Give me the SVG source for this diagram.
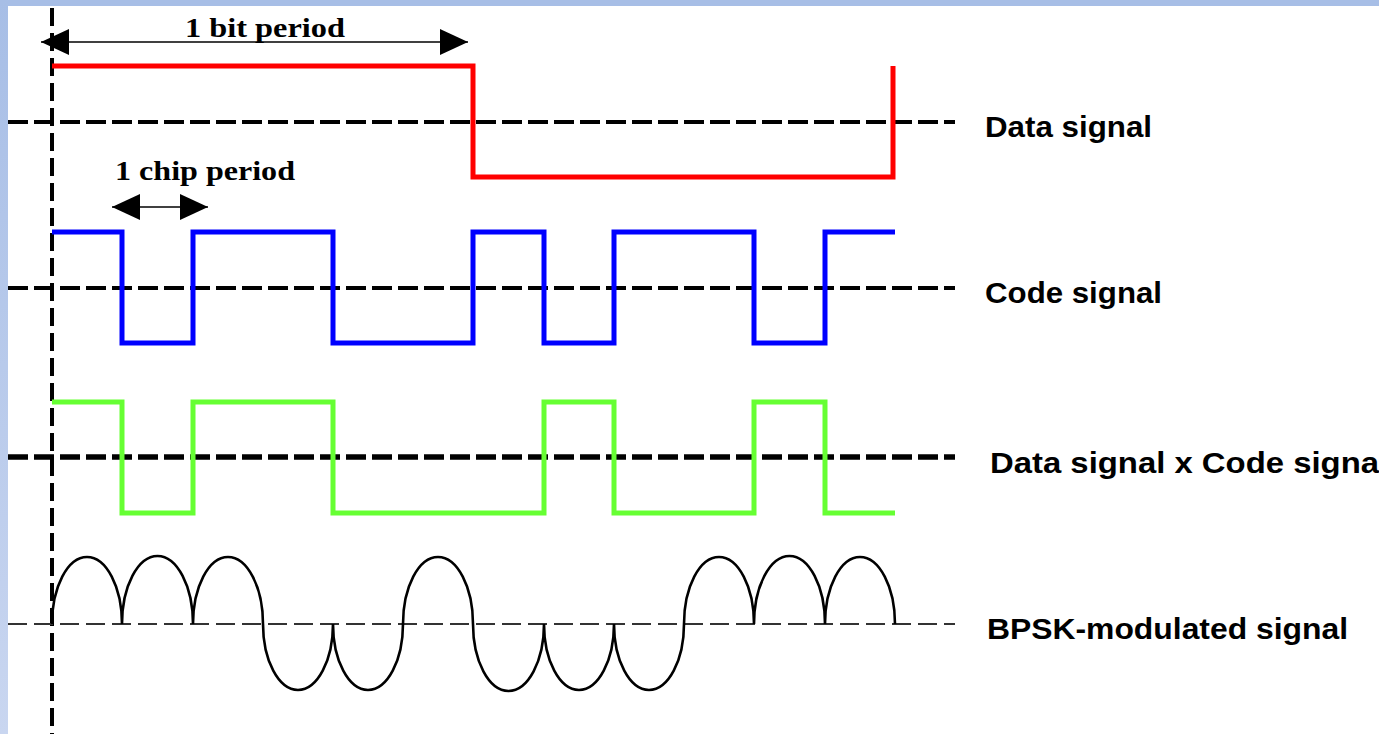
<svg xmlns="http://www.w3.org/2000/svg" width="1379" height="734" viewBox="0 0 1379 734">
  <defs>
    <linearGradient id="bandGrad" x1="0" y1="0" x2="0" y2="1">
      <stop offset="0" stop-color="#a7bee6"/>
      <stop offset="1" stop-color="#c9d6f0"/>
    </linearGradient>
    <marker id="arrowEnd" markerWidth="28" markerHeight="26" refX="28" refY="13" orient="auto" markerUnits="userSpaceOnUse">
      <path d="M0,0 L28,13 L0,26 Z" fill="#000"/>
    </marker>
    <marker id="arrowStart" markerWidth="28" markerHeight="26" refX="0" refY="13" orient="auto" markerUnits="userSpaceOnUse">
      <path d="M28,0 L0,13 L28,26 Z" fill="#000"/>
    </marker>
  </defs>
  <style>
    .axis { fill: none; stroke: #000; stroke-dasharray: 20 6; }
    .sig { fill: none; stroke-width: 5; stroke-linejoin: miter; }
    .label { font-family: "Liberation Sans", Arial, sans-serif; font-weight: bold; font-size: 29px; fill: #000; }
    .dim { font-family: "Liberation Serif", "Times New Roman", serif; font-weight: bold; font-size: 28px; fill: #000; }
    .dimline { stroke: #000; stroke-width: 1.6; fill: none; }
  </style>

  <!-- background -->
  <rect x="0" y="0" width="1379" height="734" fill="#ffffff"/>
  <rect x="0" y="0" width="1379" height="6" fill="#a7bee6"/>
  <rect x="0" y="0" width="8" height="734" fill="url(#bandGrad)"/>

  <!-- vertical time reference -->
  <line x1="52" y1="8" x2="52" y2="734" stroke="#000" stroke-width="4" stroke-dasharray="18 7"/>

  <g id="data-signal">
    <line class="axis" x1="8" y1="122" x2="955" y2="122" stroke-width="4"/>
    <path class="sig" stroke="#ff0000" d="M52 66 H473 V177 H893 V66"/>
    <text class="label" x="985" y="137" textLength="167" lengthAdjust="spacingAndGlyphs">Data signal</text>
  </g>

  <g id="code-signal">
    <line class="axis" x1="8" y1="288" x2="955" y2="288" stroke-width="4"/>
    <path class="sig" stroke="#0000ff" d="M52 232 H122 V343 H193 V232 H333 V343 H473 V232 H544 V343 H614 V232 H754 V343 H825 V232 H895"/>
    <text class="label" x="985" y="303" textLength="177" lengthAdjust="spacingAndGlyphs">Code signal</text>
  </g>

  <g id="product-signal">
    <line class="axis" x1="8" y1="457" x2="955" y2="457" stroke-width="5.5"/>
    <path class="sig" stroke="#66ff33" d="M52 402 H122 V513 H193 V402 H333 V513 H544 V402 H614 V513 H754 V402 H825 V513 H895"/>
    <text class="label" x="990" y="473" textLength="389" lengthAdjust="spacingAndGlyphs">Data signal x Code signa</text>
  </g>

  <g id="bpsk-signal">
    <line x1="8" y1="624" x2="955" y2="624" stroke="#333" stroke-width="2" stroke-dasharray="19 7"/>
    <path fill="none" stroke="#000" stroke-width="2.6" d="M52 624 A35 67 0 0 1 122 624 A35 67 0 0 1 193 624 A35 67 0 0 1 263 624 A35 66 0 0 0 333 624 A35 66 0 0 0 403 624 A35 67 0 0 1 473 624 A35 66 0 0 0 544 624 A35 66 0 0 0 614 624 A35 66 0 0 0 684 624 A35 67 0 0 1 754 624 A35 67 0 0 1 825 624 A35 67 0 0 1 895 624"/>
    <text class="label" x="987" y="639" textLength="361" lengthAdjust="spacingAndGlyphs">BPSK-modulated signal</text>
  </g>

  <g id="connectors">
    <line class="dimline" x1="41" y1="42" x2="468" y2="42" marker-start="url(#arrowStart)" marker-end="url(#arrowEnd)"/>
    <line class="dimline" x1="112" y1="207" x2="208" y2="207" marker-start="url(#arrowStart)" marker-end="url(#arrowEnd)"/>
  </g>

  <g id="dimension-labels">
    <text class="dim" x="185" y="37" textLength="160" lengthAdjust="spacingAndGlyphs">1 bit period</text>
    <text class="dim" x="115" y="180" textLength="180" lengthAdjust="spacingAndGlyphs">1 chip period</text>
  </g>
</svg>
